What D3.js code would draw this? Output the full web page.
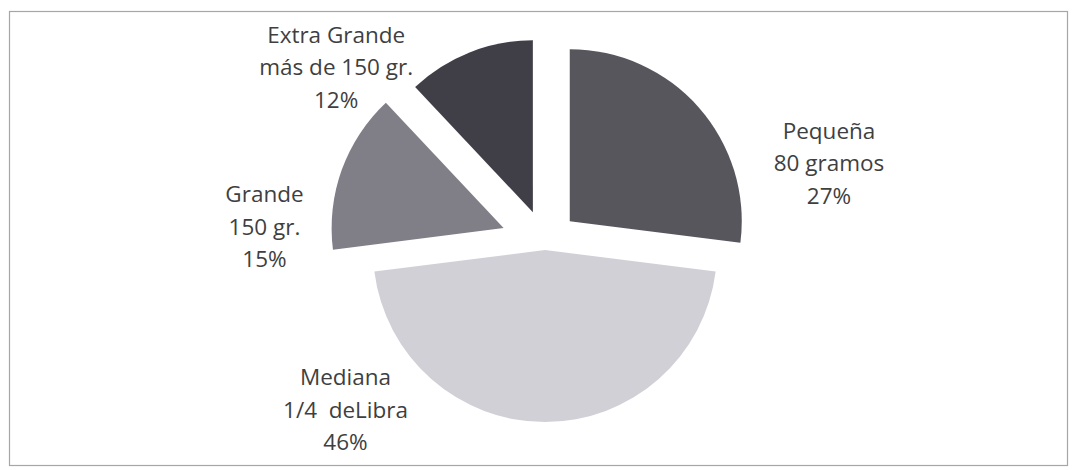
<!DOCTYPE html>
<html>
<head>
<meta charset="utf-8">
<script src="https://cdn.jsdelivr.net/npm/d3@7/dist/d3.min.js"></script>
<style>
  html, body { margin: 0; padding: 0; background: #ffffff; }
  svg { display: block; }
  text { white-space: pre; }
</style>
</head>
<body>
<div id="chart"></div>
<script>
// Hamburger sizes and their share of sales
const categories = ["Pequeña", "Mediana", "Grande", "Extra Grande"];
const subtitles  = ["80 gramos", "1/4  deLibra", "150 gr.", "más de 150 gr."];
const shares     = [27, 46, 15, 12];

// Slice fills, darkest for the extra large patty
const fills = ["#57565d", "#d1d0d7", "#807e86", "#403e47"];
// How far each slice is pulled out of the pie (px)
const explode = [33, 7, 44, 33];
// Label anchor in polar form around the pie centre: [angle in degrees, distance]
const labelPolar = [[74.3, 295], [230.1, 260], [273.3, 281], [310.1, 273]];

const width = 1077, height = 470;
const cx = 545, cy = 243, radius = 172;

const svg = d3.select("#chart").append("svg")
  .attr("width", width).attr("height", height);

// chart frame
svg.append("rect")
  .attr("x", 9.5).attr("y", 11.5)
  .attr("width", 1058).attr("height", 454)
  .attr("fill", "none").attr("stroke", "#a6a6a6").attr("stroke-width", 1.2);

const pie = d3.pie().sort(null).value(d => d).startAngle(0).endAngle(2 * Math.PI);
const arcs = pie(shares);
const arcGen = d3.arc().innerRadius(0).outerRadius(radius);

const g = svg.append("g").attr("transform", `translate(${cx},${cy})`);

g.selectAll("path.slice")
  .data(arcs)
  .join("path")
  .attr("class", "slice")
  .attr("d", arcGen)
  .attr("fill", (d, i) => fills[i])
  .attr("transform", (d, i) => {
    const mid = (d.startAngle + d.endAngle) / 2;
    return `translate(${explode[i] * Math.sin(mid)},${-explode[i] * Math.cos(mid)})`;
  });

// data labels: name, weight, percentage
const lineGap = 32.5;
const labels = g.selectAll("text.lbl")
  .data(arcs)
  .join("text")
  .attr("class", "lbl")
  .attr("text-anchor", "middle")
  .attr("font-family", "'Open Sans', 'Noto Sans', sans-serif")
  .attr("font-size", 22.5)
  .attr("fill", "#3f3f3f")
  .attr("transform", (d, i) => {
    const a = labelPolar[i][0] * Math.PI / 180, r = labelPolar[i][1];
    return `translate(${r * Math.sin(a)},${-r * Math.cos(a)})`;
  });

labels.each(function(d, i) {
  const t = d3.select(this);
  const pct = Math.round(d.value / d3.sum(shares) * 100) + "%";
  [categories[i], subtitles[i], pct].forEach((s, k) => {
    t.append("tspan")
      .attr("x", 0)
      .attr("y", (k - 1) * lineGap)
      .attr("dy", "0.35em")
      .text(s);
  });
});
</script>
</body>
</html>
